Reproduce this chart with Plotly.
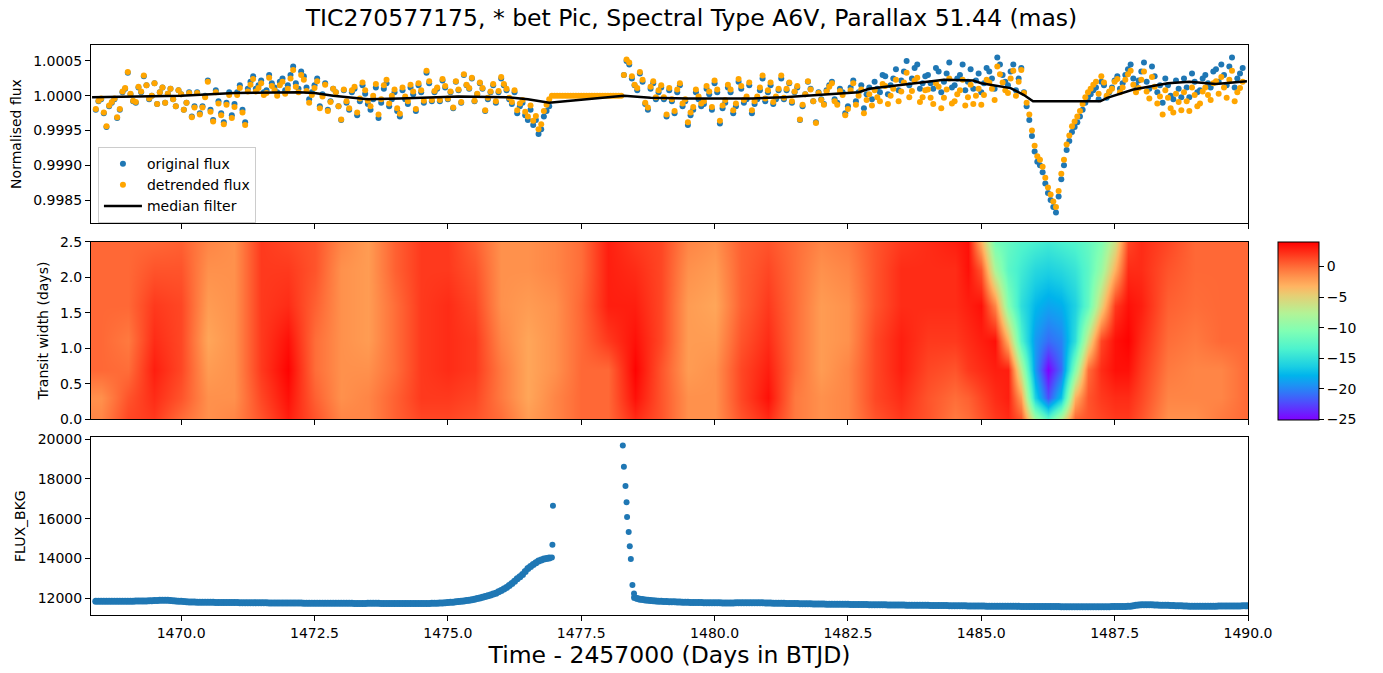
import plotly.graph_objects as go

# ---------------- data ----------------
time_pre = [1468.4, 1468.5, 1468.6, 1468.7, 1468.8, 1468.9,
            1469.0, 1469.1, 1469.2, 1469.3, 1469.4, 1469.5, 1469.6, 1469.7, 1469.8, 1469.9,
            1470.0, 1470.1, 1470.2, 1470.3, 1470.4, 1470.5, 1470.6, 1470.7, 1470.8, 1470.9,
            1471.0, 1471.1, 1471.2, 1471.3, 1471.4, 1471.5, 1471.6, 1471.7, 1471.8, 1471.9,
            1472.0, 1472.1, 1472.2, 1472.3, 1472.4, 1472.5, 1472.6, 1472.7, 1472.8, 1472.9,
            1473.0, 1473.1, 1473.2, 1473.3, 1473.4, 1473.5, 1473.6, 1473.7, 1473.8, 1473.9,
            1474.0, 1474.1, 1474.2, 1474.3, 1474.4, 1474.5, 1474.6, 1474.7, 1474.8, 1474.9,
            1475.0, 1475.1, 1475.2, 1475.3, 1475.4, 1475.5, 1475.6, 1475.7, 1475.8, 1475.9,
            1476.0, 1476.1, 1476.2, 1476.3, 1476.4, 1476.5, 1476.6, 1476.7, 1476.8, 1476.9]

flux_orig_pre = [0.99980, 0.99995, 0.99955, 0.99990, 0.99968, 1.00005,
                 1.00033, 0.99992, 1.00012, 1.00028, 0.99995, 1.00018, 1.00005, 0.99990, 1.00010, 0.99985,
                 1.00002, 0.99990, 0.99970, 1.00005, 0.99985, 1.00022, 0.99965, 0.99992, 0.99962, 1.00005,
                 0.99988, 1.00015, 0.99962, 1.00020, 1.00010, 1.00022, 1.00008, 1.00018, 1.00005, 1.00025,
                 1.00015, 1.00042, 1.00010, 1.00028, 0.99995, 1.00015, 0.99985, 1.00018, 0.99992, 1.00005,
                 0.99965, 0.99990, 1.00005, 0.99972, 1.00015, 0.99988, 0.99995, 0.99968, 1.00010, 0.99985,
                 1.00005, 0.99970, 0.99995, 1.00012, 0.99978, 1.00005, 1.00033, 0.99992, 1.00010, 1.00022,
                 0.99995, 0.99982, 1.00008, 1.00030, 1.00010, 0.99992, 1.00018, 0.99978, 1.00005, 0.99990,
                 1.00025, 1.00008, 0.99988, 0.99975, 0.99990, 0.99965, 0.99958, 0.99945, 0.99970, 0.99985]

flux_detr_pre = [0.99981, 0.99996, 0.99956, 0.99991, 0.99969, 1.00006,
                 1.00034, 0.99993, 1.00013, 1.00029, 0.99996, 1.00018, 1.00005, 0.99990, 1.00010, 0.99985,
                 1.00002, 0.99990, 0.99969, 1.00004, 0.99983, 1.00020, 0.99963, 0.99989, 0.99959, 1.00001,
                 0.99984, 1.00011, 0.99958, 1.00016, 1.00006, 1.00018, 1.00004, 1.00014, 1.00000, 1.00020,
                 1.00010, 1.00037, 1.00005, 1.00023, 0.99990, 1.00011, 0.99982, 1.00016, 0.99991, 1.00005,
                 0.99966, 0.99992, 1.00008, 0.99976, 1.00019, 0.99993, 1.00000, 0.99973, 1.00015, 0.99989,
                 1.00009, 0.99974, 0.99999, 1.00016, 0.99981, 1.00008, 1.00036, 0.99994, 1.00012, 1.00024,
                 0.99996, 0.99983, 1.00009, 1.00031, 1.00011, 0.99993, 1.00019, 0.99979, 1.00006, 0.99992,
                 1.00027, 1.00010, 0.99991, 0.99979, 0.99994, 0.99970, 0.99964, 0.99952, 0.99978, 0.99995]

time_pre_mid = [1468.45, 1468.55, 1468.65, 1468.75, 1468.85, 1468.95,
                1469.05, 1469.15, 1469.25, 1469.35, 1469.45, 1469.55, 1469.65, 1469.75, 1469.85, 1469.95,
                1470.05, 1470.15, 1470.25, 1470.35, 1470.45, 1470.55, 1470.65, 1470.75, 1470.85, 1470.95,
                1471.05, 1471.15, 1471.25, 1471.35, 1471.45, 1471.55, 1471.65, 1471.75, 1471.85, 1471.95,
                1472.05, 1472.15, 1472.25, 1472.35, 1472.45, 1472.55, 1472.65, 1472.75, 1472.85, 1472.95,
                1473.05, 1473.15, 1473.25, 1473.35, 1473.45, 1473.55, 1473.65, 1473.75, 1473.85, 1473.95,
                1474.05, 1474.15, 1474.25, 1474.35, 1474.45, 1474.55, 1474.65, 1474.75, 1474.85, 1474.95,
                1475.05, 1475.15, 1475.25, 1475.35, 1475.45, 1475.55, 1475.65, 1475.75, 1475.85, 1475.95,
                1476.05, 1476.15, 1476.25, 1476.35, 1476.45, 1476.55, 1476.65, 1476.75, 1476.85]

flux_orig_pre_mid = [0.99992, 0.99975, 0.99985, 0.99995, 0.99980, 1.00010,
                     1.00002, 0.99990, 1.00005, 1.00015, 1.00000, 0.99988, 1.00012, 1.00003, 0.99995, 1.00008,
                     0.99980, 1.00005, 0.99985, 0.99975, 1.00000, 0.99980, 1.00008, 0.99975, 0.99990, 0.99972,
                     1.00005, 0.99980, 1.00010, 1.00028, 1.00015, 1.00005, 1.00030, 1.00012, 1.00020, 1.00008,
                     1.00030, 1.00018, 1.00035, 1.00012, 1.00005, 1.00025, 1.00002, 0.99980, 1.00010, 0.99985,
                     1.00008, 0.99980, 1.00010, 0.99992, 1.00003, 0.99980, 1.00012, 0.99990, 1.00018, 0.99995,
                     0.99978, 1.00008, 0.99988, 1.00002, 1.00015, 0.99990, 1.00018, 1.00005, 0.99992, 1.00012,
                     1.00005, 1.00020, 0.99990, 1.00015, 1.00025, 1.00002, 1.00010, 0.99995, 1.00015, 1.00005,
                     1.00015, 0.99995, 1.00005, 0.99985, 0.99972, 0.99980, 0.99965, 0.99952, 0.99978]

flux_detr_pre_mid = [0.99993, 0.99976, 0.99986, 0.99996, 0.99981, 1.00011,
                     1.00003, 0.99991, 1.00006, 1.00015, 1.00000, 0.99988, 1.00012, 1.00003, 0.99995, 1.00008,
                     0.99980, 1.00004, 0.99983, 0.99973, 0.99998, 0.99977, 1.00005, 0.99972, 0.99987, 0.99968,
                     1.00001, 0.99976, 1.00006, 1.00024, 1.00011, 1.00001, 1.00026, 1.00008, 1.00015, 1.00003,
                     1.00025, 1.00013, 1.00030, 1.00007, 1.00001, 1.00021, 0.99999, 0.99978, 1.00010, 0.99985,
                     1.00009, 0.99982, 1.00013, 0.99996, 1.00008, 0.99985, 1.00017, 0.99995, 1.00023, 1.00000,
                     0.99982, 1.00012, 0.99992, 1.00006, 1.00018, 0.99993, 1.00021, 1.00007, 0.99994, 1.00014,
                     1.00006, 1.00021, 0.99991, 1.00016, 1.00026, 1.00003, 1.00011, 0.99997, 1.00017, 1.00007,
                     1.00017, 0.99997, 1.00008, 0.99989, 0.99977, 0.99986, 0.99971, 0.99959, 0.99987]

time_gap = [1476.95, 1477.0, 1477.05, 1477.1, 1477.15, 1477.2, 1477.25, 1477.3, 1477.35, 1477.4,
            1477.45, 1477.5, 1477.55, 1477.6, 1477.65, 1477.7, 1477.75, 1477.8, 1477.85, 1477.9,
            1477.95, 1478.0, 1478.05, 1478.1, 1478.15, 1478.2, 1478.25]
flux_detr_gap = [1.0, 1.0, 1.0, 1.0, 1.0, 1.0, 1.0, 1.0, 1.0, 1.0,
                 1.0, 1.0, 1.0, 1.0, 1.0, 1.0, 1.0, 1.0, 1.0, 1.0,
                 1.0, 1.0, 1.0, 1.0, 1.0, 1.0, 1.0]

time_post = [1478.3, 1478.4, 1478.5, 1478.6, 1478.7, 1478.8, 1478.9,
             1479.0, 1479.1, 1479.2, 1479.3, 1479.4, 1479.5, 1479.6, 1479.7, 1479.8, 1479.9,
             1480.0, 1480.1, 1480.2, 1480.3, 1480.4, 1480.5, 1480.6, 1480.7, 1480.8, 1480.9,
             1481.0, 1481.1, 1481.2, 1481.3, 1481.4, 1481.5, 1481.6, 1481.7, 1481.8, 1481.9,
             1482.0, 1482.1, 1482.2, 1482.3, 1482.4, 1482.5, 1482.6, 1482.7, 1482.8, 1482.9,
             1483.0, 1483.1, 1483.2, 1483.3, 1483.4, 1483.5, 1483.6, 1483.7, 1483.8, 1483.9,
             1484.0, 1484.1, 1484.2, 1484.3, 1484.4, 1484.5, 1484.6, 1484.7, 1484.8, 1484.9,
             1485.0, 1485.1, 1485.2, 1485.3, 1485.4, 1485.5, 1485.6, 1485.7, 1485.8,
             1485.85, 1485.9, 1485.95, 1486.0, 1486.05, 1486.1, 1486.15, 1486.2, 1486.25, 1486.3,
             1486.35, 1486.4, 1486.45, 1486.5, 1486.55, 1486.6, 1486.65, 1486.7, 1486.75, 1486.8,
             1486.85, 1486.9, 1486.95, 1487.0,
             1487.1, 1487.2, 1487.3, 1487.4, 1487.5, 1487.6, 1487.7, 1487.8, 1487.9,
             1488.0, 1488.1, 1488.2, 1488.3, 1488.4, 1488.5, 1488.6, 1488.7, 1488.8, 1488.9,
             1489.0, 1489.1, 1489.2, 1489.3, 1489.4, 1489.5, 1489.6, 1489.7, 1489.8, 1489.9]

flux_orig_post = [1.00030, 1.00045, 1.00015, 1.00032, 0.99988, 1.00010, 0.99995,
                  1.00012, 0.99970, 0.99992, 1.00005, 0.99985, 0.99958, 0.99980, 0.99995, 0.99988, 1.00002,
                  1.00018, 0.99960, 0.99990, 1.00005, 0.99985, 1.00010, 0.99995, 0.99975, 0.99995, 1.00025,
                  1.00005, 0.99988, 1.00008, 0.99995, 1.00018, 1.00005, 0.99965, 1.00002, 1.00010, 0.99962,
                  0.99995, 1.00008, 1.00020, 0.99990, 1.00005, 0.99985, 1.00022, 1.00005, 0.99982, 1.00012,
                  1.00020, 1.00005, 1.00028, 1.00015, 1.00038, 1.00022, 1.00050, 1.00025, 1.00045, 1.00018,
                  1.00030, 1.00010, 1.00035, 1.00020, 1.00048, 1.00015, 1.00030, 1.00008, 1.00038, 1.00022,
                  1.00005, 1.00040, 1.00025, 1.00055, 1.00030, 1.00015, 1.00045, 1.00025, 1.00005,
                  0.99985, 0.99965, 0.99942, 0.99920, 0.99905, 0.99900, 0.99890, 0.99874, 0.99860, 0.99850,
                  0.99840, 0.99832, 0.99855, 0.99880, 0.99900, 0.99922, 0.99935, 0.99948, 0.99955, 0.99962,
                  0.99970, 0.99980, 0.99990, 0.99997,
                  1.00008, 0.99995, 1.00015, 1.00005, 1.00022, 1.00010, 1.00030, 1.00045, 1.00015,
                  1.00035, 1.00020, 1.00042, 1.00005, 0.99990, 1.00015, 0.99995, 1.00010, 1.00025, 0.99998,
                  1.00020, 1.00008, 1.00030, 1.00012, 1.00038, 1.00045, 1.00015, 1.00055, 1.00025, 1.00040]

flux_detr_post = [1.00030, 1.00048, 1.00016, 1.00034, 0.99990, 1.00013, 0.99998,
                  1.00015, 0.99973, 0.99995, 1.00009, 0.99989, 0.99962, 0.99984, 0.99999, 0.99992, 1.00006,
                  1.00022, 0.99964, 0.99994, 1.00009, 0.99989, 1.00014, 0.99999, 0.99979, 0.99999, 1.00029,
                  1.00008, 0.99991, 1.00010, 0.99997, 1.00019, 1.00006, 0.99966, 1.00002, 1.00009, 0.99961,
                  0.99994, 1.00006, 1.00018, 0.99987, 1.00001, 0.99981, 1.00018, 1.00000, 0.99975, 1.00002,
                  1.00008, 0.99992, 1.00014, 1.00000, 1.00023, 1.00006, 1.00033, 1.00007, 1.00026, 0.99998,
                  1.00009, 0.99988, 1.00013, 0.99997, 1.00025, 0.99992, 1.00008, 0.99986, 1.00016, 1.00000,
                  0.99987, 1.00023, 1.00010, 1.00042, 1.00019, 1.00004, 1.00036, 1.00020, 1.00004,
                  0.99990, 0.99973, 0.99950, 0.99928, 0.99913, 0.99908, 0.99898, 0.99882, 0.99868, 0.99858,
                  0.99848, 0.99840, 0.99863, 0.99888, 0.99908, 0.99930, 0.99943, 0.99956, 0.99963, 0.99970,
                  0.99978, 0.99988, 0.99998, 1.00005,
                  1.00016, 1.00003, 1.00019, 1.00006, 1.00020, 1.00005, 1.00023, 1.00036, 1.00005,
                  1.00023, 1.00006, 1.00027, 0.99989, 0.99973, 0.99997, 0.99976, 0.99991, 1.00005, 0.99978,
                  1.00001, 0.99989, 1.00012, 0.99994, 1.00021, 1.00027, 0.99997, 1.00036, 1.00005, 1.00020]

time_post_mid = [1478.35, 1478.45, 1478.55, 1478.65, 1478.75, 1478.85, 1478.95,
                 1479.05, 1479.15, 1479.25, 1479.35, 1479.45, 1479.55, 1479.65, 1479.75, 1479.85, 1479.95,
                 1480.05, 1480.15, 1480.25, 1480.35, 1480.45, 1480.55, 1480.65, 1480.75, 1480.85, 1480.95,
                 1481.05, 1481.15, 1481.25, 1481.35, 1481.45, 1481.55, 1481.65, 1481.75, 1481.85, 1481.95,
                 1482.05, 1482.15, 1482.25, 1482.35, 1482.45, 1482.55, 1482.65, 1482.75, 1482.85, 1482.95,
                 1483.05, 1483.15, 1483.25, 1483.35, 1483.45, 1483.55, 1483.65, 1483.75, 1483.85, 1483.95,
                 1484.05, 1484.15, 1484.25, 1484.35, 1484.45, 1484.55, 1484.65, 1484.75, 1484.85, 1484.95,
                 1485.05, 1485.15, 1485.25, 1485.35, 1485.45, 1485.55, 1485.65, 1485.75,
                 1487.05, 1487.15, 1487.25, 1487.35, 1487.45, 1487.55, 1487.65, 1487.75, 1487.85, 1487.95,
                 1488.05, 1488.15, 1488.25, 1488.35, 1488.45, 1488.55, 1488.65, 1488.75, 1488.85, 1488.95,
                 1489.05, 1489.15, 1489.25, 1489.35, 1489.45, 1489.55, 1489.65, 1489.75, 1489.85]

flux_orig_post_mid = [1.00050, 1.00025, 1.00008, 1.00020, 0.99980, 1.00018, 1.00005,
                      0.99995, 1.00008, 0.99975, 1.00015, 0.99992, 0.99972, 1.00005, 0.99985, 1.00010, 0.99980,
                      1.00005, 0.99982, 1.00012, 0.99975, 1.00020, 0.99990, 1.00015, 0.99988, 1.00008, 0.99992,
                      1.00015, 0.99995, 1.00025, 1.00008, 0.99990, 1.00012, 0.99985, 1.00020, 0.99992, 1.00005,
                      0.99988, 1.00015, 0.99995, 1.00010, 0.99975, 1.00012, 0.99992, 1.00015, 1.00002, 0.99995,
                      1.00010, 1.00030, 1.00002, 1.00025, 1.00008, 1.00035, 1.00015, 1.00040, 1.00010, 1.00028,
                      1.00018, 1.00040, 1.00005, 1.00032, 1.00012, 1.00025, 1.00045, 1.00020, 1.00010, 1.00032,
                      1.00018, 1.00035, 1.00010, 1.00045, 1.00020, 1.00035, 1.00008, 1.00040,
                      1.00002, 1.00012, 1.00020, 0.99997, 1.00012, 1.00028, 1.00018, 1.00038, 1.00025, 1.00022,
                      1.00048, 1.00010, 1.00028, 1.00015, 1.00025, 1.00000, 1.00022, 0.99998, 1.00012, 1.00032,
                      1.00005, 1.00025, 1.00018, 1.00035, 1.00020, 1.00030, 1.00042, 1.00012, 1.00032]

flux_detr_post_mid = [1.00052, 1.00028, 1.00011, 1.00023, 0.99983, 1.00021, 1.00008,
                      0.99998, 1.00011, 0.99978, 1.00018, 0.99995, 0.99976, 1.00009, 0.99989, 1.00014, 0.99984,
                      1.00009, 0.99986, 1.00016, 0.99979, 1.00024, 0.99994, 1.00019, 0.99992, 1.00012, 0.99996,
                      1.00019, 0.99999, 1.00029, 1.00010, 0.99992, 1.00014, 0.99987, 1.00021, 0.99992, 1.00004,
                      0.99987, 1.00013, 0.99992, 1.00007, 0.99972, 1.00008, 0.99987, 1.00009, 0.99994, 0.99986,
                      0.99998, 1.00017, 0.99988, 1.00010, 0.99992, 1.00019, 0.99998, 1.00022, 0.99991, 1.00008,
                      0.99997, 1.00018, 0.99982, 1.00009, 0.99989, 1.00002, 1.00023, 0.99998, 0.99988, 1.00010,
                      1.00001, 1.00019, 0.99994, 1.00031, 1.00008, 1.00025, 1.00000, 1.00037,
                      1.00010, 1.00020, 1.00028, 1.00000, 1.00010, 1.00024, 1.00012, 1.00031, 1.00016, 1.00011,
                      1.00035, 0.99996, 1.00013, 0.99999, 1.00008, 0.99982, 1.00003, 0.99979, 0.99992, 1.00012,
                      0.99985, 1.00006, 1.00001, 1.00018, 1.00003, 1.00012, 1.00023, 0.99992, 1.00011]

median_time = [1468.33, 1469.0, 1470.0, 1471.0, 1472.2, 1472.5, 1472.85, 1473.5, 1474.1, 1475.2,
               1476.1, 1476.5, 1476.9, 1478.3, 1478.8, 1479.5, 1480.7, 1481.3, 1482.2, 1482.7,
               1482.9, 1483.5, 1484.3, 1484.85, 1485.0, 1485.55, 1485.8, 1485.97, 1487.23, 1487.36,
               1487.85, 1488.5, 1488.9, 1489.4, 1489.98]
median_flux = [0.99998, 0.99999, 1.0, 1.00004, 1.00005, 1.00004, 1.0, 0.99995, 0.99996, 0.99999,
               0.99998, 0.99995, 0.99990, 1.0, 0.99997, 0.99996, 0.99996, 0.99998, 1.00002, 1.00005,
               1.0001, 1.00016, 1.00023, 1.00022, 1.00018, 1.00011, 1.00001, 0.99992, 0.99992, 0.99997,
               1.00009, 1.00018, 1.0002, 1.00017, 1.00021]

# transit-search grid (width x time)
grid_time = [1468.5, 1469.0, 1469.5, 1470.0, 1470.5, 1471.0, 1471.5, 1472.0, 1472.5, 1473.0,
             1473.5, 1474.0, 1474.5, 1475.0, 1475.5, 1476.0, 1476.5, 1477.0, 1477.5, 1478.0,
             1478.5, 1479.0, 1479.5, 1480.0, 1480.5, 1481.0, 1481.5, 1482.0, 1482.5, 1483.0,
             1483.5, 1484.0, 1484.5, 1484.75, 1485.0, 1485.25, 1485.5, 1485.75, 1486.0, 1486.25,
             1486.5, 1486.75, 1487.0, 1487.25, 1487.5, 1487.75, 1488.0, 1488.5, 1489.0, 1489.5,
             1490.0]
grid_width = [0.0, 0.3, 0.7, 1.1, 1.6, 2.1, 2.5]
score = [
    [-1, 1.5, 2, 0, -1.5, -1, 1, 3, 1, -1,
     -1, 0.5, 1.5, 1.5, 1, 0, -2, -1, 0.2, 0.2,
     2.5, 1, -1.5, -1.5, 1, 2.5, -0.5, -1.5, -1, 1,
     2, 1, -0.5, 0, 1, 2, 2.5, 1, -8, -12,
     -7, 0.5, 1, 1.5, 2, 2, 1, -1.5, -1.5, -0.5,
     0.2],
    [-1.5, 1, 2.5, 1, -1.5, -1.5, 1.5, 3.5, 0.5, -1.5,
     -1, 0.5, 2, 2, 1.5, -0.5, -2.5, -1, 0.2, 0.2,
     3.5, 1, -1.5, -1.5, 1.5, 3.5, -0.5, -1.5, -1, 1.5,
     2.5, 1, 0, 0.5, 1.5, 2.5, 3, -2, -16, -22,
     -17, -3, 1, 2, 2.5, 2.5, 1.5, -1, -1, -1,
     0.2],
    [0.2, 0, 3, 1.5, -2, -1.5, 2, 4, 0, -1.5,
     -1.5, 0, 2, 2.5, 2, -0.5, -2.5, -1.5, 0.2, 0.2,
     4, 1, -2, -1.5, 1.5, 3, 0, -2, -1, 1.5,
     3, 1.5, 1, 2, 2.5, 3, 3, -7, -19, -25,
     -21, -10, 0, 2.5, 3.5, 3.5, 2, -0.5, -1, -1,
     0.2],
    [0.2, -0.5, 2.5, 1.5, -2.5, -1.5, 2, 3.5, 0, -1.5,
     -2, 0, 2, 2.5, 2, -1, -2.5, -1.5, 0.2, 2,
     3.5, 1.5, -2, -2, 1, 2.5, 0, -2, -1.5, 1.5,
     3, 2, 2, 2.5, 3, 3.5, -3, -13, -19, -21,
     -20, -15, -6, 1.5, 3.5, 4, 2.5, 0, -0.5, 0.2,
     0.2],
    [0.2, 0.2, 2, 1.5, -2, -1.5, 2, 2.5, 0.5, -1.5,
     -2, 0, 2, 2.5, 1.5, -1.5, -2, -1.5, 0.3, 3,
     3, 1.5, -2, -2.5, 0.5, 2, 0, -2, -1.5, 1,
     2.5, 2.5, 2.5, 3, 3.5, -1, -10, -15, -17.5, -18.5,
     -18, -16, -12, -5, 2, 3.5, 3, 0.5, 0, 0.2,
     0.2],
    [0.2, 0.2, 1, 1, -1.5, -1.5, 2, 2, 1, -1.5,
     -2, 0.5, 2, 2, 1, -1.5, -1.5, -1, 0, 3,
     2.5, 1.5, -1.5, -2, 0.5, 1.5, 0, -1.5, -1, 1,
     2.5, 2.5, 2.5, 3.5, 1, -8, -12.5, -14, -15.5, -16,
     -15.5, -14.5, -12.5, -9, -3, 2.5, 2.5, 1, 0.2, 0.2,
     0.2],
    [0.2, 0.2, 0.2, 0.5, -1, -1.5, 2, 1.5, 1, -1,
     -2, 0.5, 2, 2, 0.5, -1.5, -1.5, -1, 0, 3,
     2, 1.5, -1, -1.5, 0.5, 1, 0, -1, -0.5, 1,
     2, 2.5, 3, 3.5, -3, -11, -12, -13, -13.5, -14,
     -13.5, -13, -12, -10.5, -6, 1.5, 2.5, 1.5, 0.2, 0.2,
     0.2],
]

bkg_pre = [11860, 11855, 11860, 11855, 11860, 11855,
           11860, 11860, 11865, 11870, 11875, 11890, 11905, 11910, 11895, 11870,
           11850, 11830, 11815, 11810, 11805, 11800, 11800, 11795, 11795, 11790,
           11790, 11785, 11785, 11780, 11780, 11775, 11775, 11770, 11770, 11770,
           11765, 11765, 11765, 11760, 11760, 11760, 11755, 11755, 11755, 11750,
           11750, 11750, 11750, 11745, 11745, 11750, 11760, 11750, 11745, 11745,
           11740, 11740, 11740, 11740, 11740, 11745, 11745, 11750, 11760, 11770,
           11790, 11810, 11840, 11870, 11910, 11960, 12020, 12090, 12170, 12260,
           12400, 12550, 12750, 12980, 13200, 13500, 13700, 13880, 13980, 14030]

bkg_pre_mid = [11858, 11858, 11858, 11858, 11858, 11858,
               11860, 11862, 11868, 11872, 11882, 11898, 11908, 11902, 11882, 11860,
               11840, 11822, 11812, 11808, 11802, 11800, 11798, 11795, 11792, 11790,
               11788, 11785, 11782, 11780, 11778, 11775, 11772, 11770, 11770, 11768,
               11765, 11765, 11762, 11760, 11760, 11758, 11755, 11755, 11752, 11750,
               11750, 11750, 11748, 11745, 11748, 11755, 11755, 11748, 11745, 11742,
               11740, 11740, 11740, 11740, 11742, 11745, 11748, 11755, 11765, 11780,
               11800, 11825, 11855, 11890, 11935, 11990, 12055, 12130, 12215, 12330,
               12475, 12650, 12865, 13090, 13350, 13600, 13790, 13930, 14005]

bkg_time_spike = [1476.95, 1476.96, 1476.97, 1478.28, 1478.30, 1478.33, 1478.35, 1478.36,
                  1478.39, 1478.41, 1478.43, 1478.46, 1478.49]
bkg_spike = [14050, 14700, 16650, 19680, 18620, 17650, 16830, 16090,
             15340, 14620, 13980, 12670, 12250]

bkg_time_post = [1478.5, 1478.6, 1478.7, 1478.8, 1478.9,
                 1479.0, 1479.1, 1479.2, 1479.3, 1479.4, 1479.5, 1479.6, 1479.7, 1479.8, 1479.9,
                 1480.0, 1480.1, 1480.2, 1480.3, 1480.4, 1480.5, 1480.6, 1480.7, 1480.8, 1480.9,
                 1481.0, 1481.1, 1481.2, 1481.3, 1481.4, 1481.5, 1481.6, 1481.7, 1481.8, 1481.9,
                 1482.0, 1482.1, 1482.2, 1482.3, 1482.4, 1482.5, 1482.6, 1482.7, 1482.8, 1482.9,
                 1483.0, 1483.1, 1483.2, 1483.3, 1483.4, 1483.5, 1483.6, 1483.7, 1483.8, 1483.9,
                 1484.0, 1484.1, 1484.2, 1484.3, 1484.4, 1484.5, 1484.6, 1484.7, 1484.8, 1484.9,
                 1485.0, 1485.1, 1485.2, 1485.3, 1485.4, 1485.5, 1485.6, 1485.7, 1485.8, 1485.9,
                 1486.0, 1486.1, 1486.2, 1486.3, 1486.4, 1486.5, 1486.6, 1486.7, 1486.8, 1486.9,
                 1487.0, 1487.1, 1487.2, 1487.3, 1487.4, 1487.5, 1487.6, 1487.7, 1487.8, 1487.9,
                 1488.0, 1488.1, 1488.2, 1488.3, 1488.4, 1488.5, 1488.6, 1488.7, 1488.8, 1488.9,
                 1489.0, 1489.1, 1489.2, 1489.3, 1489.4, 1489.5, 1489.6, 1489.7, 1489.8, 1489.9,
                 1490.0]
bkg_post = [12050, 11960, 11920, 11890, 11870,
            11850, 11840, 11830, 11820, 11810, 11800, 11795, 11790, 11785, 11780,
            11775, 11775, 11770, 11770, 11775, 11780, 11785, 11785, 11780, 11775,
            11765, 11760, 11755, 11750, 11745, 11740, 11735, 11730, 11725, 11720,
            11715, 11710, 11710, 11705, 11700, 11700, 11695, 11690, 11690, 11685,
            11680, 11680, 11675, 11670, 11670, 11665, 11660, 11660, 11655, 11650,
            11650, 11645, 11640, 11640, 11635, 11630, 11630, 11625, 11620, 11620,
            11615, 11610, 11610, 11605, 11605, 11600, 11600, 11600, 11595, 11595,
            11595, 11590, 11590, 11590, 11590, 11585, 11585, 11585, 11585, 11585,
            11585, 11585, 11585, 11585, 11585, 11590, 11590, 11595, 11610, 11650,
            11680, 11685, 11675, 11665, 11655, 11650, 11640, 11630, 11620, 11610,
            11605, 11600, 11600, 11605, 11610, 11615, 11615, 11620, 11620, 11625,
            11625]

bkg_time_post_mid = [1478.55, 1478.65, 1478.75, 1478.85, 1478.95,
                     1479.05, 1479.15, 1479.25, 1479.35, 1479.45, 1479.55, 1479.65, 1479.75, 1479.85, 1479.95,
                     1480.05, 1480.15, 1480.25, 1480.35, 1480.45, 1480.55, 1480.65, 1480.75, 1480.85, 1480.95,
                     1481.05, 1481.15, 1481.25, 1481.35, 1481.45, 1481.55, 1481.65, 1481.75, 1481.85, 1481.95,
                     1482.05, 1482.15, 1482.25, 1482.35, 1482.45, 1482.55, 1482.65, 1482.75, 1482.85, 1482.95,
                     1483.05, 1483.15, 1483.25, 1483.35, 1483.45, 1483.55, 1483.65, 1483.75, 1483.85, 1483.95,
                     1484.05, 1484.15, 1484.25, 1484.35, 1484.45, 1484.55, 1484.65, 1484.75, 1484.85, 1484.95,
                     1485.05, 1485.15, 1485.25, 1485.35, 1485.45, 1485.55, 1485.65, 1485.75, 1485.85, 1485.95,
                     1486.05, 1486.15, 1486.25, 1486.35, 1486.45, 1486.55, 1486.65, 1486.75, 1486.85, 1486.95,
                     1487.05, 1487.15, 1487.25, 1487.35, 1487.45, 1487.55, 1487.65, 1487.75, 1487.85, 1487.95,
                     1488.05, 1488.15, 1488.25, 1488.35, 1488.45, 1488.55, 1488.65, 1488.75, 1488.85, 1488.95,
                     1489.05, 1489.15, 1489.25, 1489.35, 1489.45, 1489.55, 1489.65, 1489.75, 1489.85, 1489.95]
bkg_post_mid = [12000, 11940, 11905, 11880, 11860,
                11845, 11835, 11825, 11815, 11805, 11798, 11792, 11788, 11782, 11778,
                11775, 11772, 11770, 11772, 11778, 11782, 11785, 11782, 11778, 11770,
                11762, 11758, 11752, 11748, 11742, 11738, 11732, 11728, 11722, 11718,
                11712, 11710, 11708, 11702, 11700, 11698, 11692, 11690, 11688, 11682,
                11680, 11678, 11672, 11670, 11668, 11662, 11660, 11658, 11652, 11650,
                11648, 11642, 11640, 11638, 11632, 11630, 11628, 11622, 11620, 11618,
                11612, 11610, 11608, 11605, 11602, 11600, 11600, 11598, 11595, 11595,
                11592, 11590, 11590, 11590, 11588, 11585, 11585, 11585, 11585, 11585,
                11585, 11585, 11585, 11585, 11588, 11590, 11592, 11602, 11630, 11668,
                11685, 11680, 11670, 11660, 11652, 11645, 11635, 11625, 11615, 11608,
                11602, 11600, 11602, 11608, 11612, 11615, 11618, 11620, 11622, 11625]

x_ticks = [1470.0, 1472.5, 1475.0, 1477.5, 1480.0, 1482.5, 1485.0, 1487.5, 1490.0]
flux_ticks = [0.9985, 0.9990, 0.9995, 1.0000, 1.0005]
width_ticks = [0.0, 0.5, 1.0, 1.5, 2.0, 2.5]
bkg_ticks = [12000, 14000, 16000, 18000, 20000]
cbar_ticks = [0, -5, -10, -15, -20, -25]

# ---------------- style ----------------
FONT = "DejaVu Sans"
BLUE = "#1f77b4"
ORANGE = "#ffa500"
rainbow = [[0.0, "rgb(128,0,255)"], [0.05, "rgb(102,40,254)"], [0.1, "rgb(77,79,252)"],
           [0.15, "rgb(51,116,248)"], [0.2, "rgb(26,150,243)"], [0.25, "rgb(0,180,236)"],
           [0.3, "rgb(26,206,227)"], [0.4, "rgb(77,243,206)"], [0.5, "rgb(128,255,180)"],
           [0.6, "rgb(179,243,150)"], [0.7, "rgb(230,206,116)"], [0.75, "rgb(255,180,98)"],
           [0.8, "rgb(255,150,79)"], [0.85, "rgb(255,116,60)"], [0.9, "rgb(255,79,40)"],
           [0.95, "rgb(255,40,20)"], [1.0, "rgb(255,0,0)"]]

fig = go.Figure()

fig.add_trace(go.Scatter(x=time_pre + time_pre_mid + time_post + time_post_mid,
                         y=flux_orig_pre + flux_orig_pre_mid + flux_orig_post + flux_orig_post_mid,
                         mode="markers", name="original flux",
                         marker=dict(color=BLUE, size=6, line=dict(width=0)),
                         xaxis="x", yaxis="y"))
fig.add_trace(go.Scatter(x=time_pre + time_pre_mid + time_gap + time_post + time_post_mid,
                         y=flux_detr_pre + flux_detr_pre_mid + flux_detr_gap + flux_detr_post
                         + flux_detr_post_mid,
                         mode="markers", name="detrended flux",
                         marker=dict(color=ORANGE, size=6, line=dict(width=0)),
                         xaxis="x", yaxis="y"))
fig.add_trace(go.Scatter(x=median_time, y=median_flux, mode="lines", name="median filter",
                         line=dict(color="black", width=2.5), xaxis="x", yaxis="y"))

fig.add_trace(go.Heatmap(x=grid_time, y=grid_width, z=score, zmin=-25, zmax=4.1,
                         colorscale=rainbow, zsmooth="best", showscale=True,
                         xaxis="x2", yaxis="y2",
                         colorbar=dict(x=1.026, xanchor="left", xpad=0, ypad=0,
                                       y=0.4991, yanchor="middle",
                                       thickness=41, lenmode="pixels", len=178,
                                       outlinewidth=1, outlinecolor="black",
                                       tickvals=cbar_ticks, ticks="outside", ticklen=5,
                                       tickcolor="black",
                                       tickfont=dict(family=FONT, size=14, color="black"))))

fig.add_trace(go.Scatter(x=time_pre + time_pre_mid + bkg_time_post + bkg_time_post_mid,
                         y=bkg_pre + bkg_pre_mid + bkg_post + bkg_post_mid,
                         mode="markers", showlegend=False,
                         marker=dict(color=BLUE, size=7, line=dict(width=0)),
                         xaxis="x3", yaxis="y3"))
fig.add_trace(go.Scatter(x=bkg_time_spike, y=bkg_spike, mode="markers", showlegend=False,
                         marker=dict(color=BLUE, size=6, line=dict(width=0)),
                         xaxis="x3", yaxis="y3"))

axis_common = dict(showline=True, mirror=True, linecolor="black", linewidth=1,
                   ticks="outside", ticklen=5, tickwidth=1, tickcolor="black",
                   showgrid=False, zeroline=False,
                   tickfont=dict(family=FONT, size=14, color="black"))

xr = [1468.31, 1490.0]
fig.update_layout(
    width=1383, height=673,
    margin=dict(l=91, r=135, t=45, b=58),
    paper_bgcolor="white", plot_bgcolor="white",
    font=dict(family=FONT, size=14, color="black"),
    title=dict(text="TIC270577175, * bet Pic, Spectral Type A6V, Parallax 51.44 (mas)",
               x=0.5, xref="container", xanchor="center",
               y=1 - 18 / 673, yref="container", yanchor="middle",
               font=dict(family=FONT, size=23.5, color="black")),
    xaxis=dict(domain=[0, 1], anchor="y", range=xr, tickvals=x_ticks,
               showticklabels=False, **axis_common),
    xaxis2=dict(domain=[0, 1], anchor="y2", range=xr, tickvals=x_ticks,
                showticklabels=False, **axis_common),
    xaxis3=dict(domain=[0, 1], anchor="y3", range=xr, tickvals=x_ticks, tickformat=".1f",
                title=dict(text="Time - 2457000 (Days in BTJD)", standoff=4,
                           font=dict(family=FONT, size=23.5, color="black")),
                **axis_common),
    yaxis=dict(domain=[0.6877, 1.0], anchor="x", range=[0.99817, 1.00073],
               tickvals=flux_ticks, tickformat=".4f",
               title=dict(text="Normalised flux", standoff=8,
                          font=dict(family=FONT, size=14, color="black")),
               **axis_common),
    yaxis2=dict(domain=[0.3433, 0.6549], anchor="x2", range=[0, 2.5],
                tickvals=width_ticks, tickformat=".1f",
                title=dict(text="Transit width (days)", standoff=8,
                           font=dict(family=FONT, size=14, color="black")),
                **axis_common),
    yaxis3=dict(domain=[0, 0.3118], anchor="x3", range=[11165, 20095],
                tickvals=bkg_ticks, tickformat="d",
                title=dict(text="FLUX_BKG", standoff=8,
                           font=dict(family=FONT, size=14, color="black")),
                **axis_common),
    legend=dict(x=0.006, y=0.821, xanchor="left", yanchor="top",
                bgcolor="rgba(255,255,255,0.8)", bordercolor="#cccccc", borderwidth=1,
                font=dict(family=FONT, size=14, color="black"),
                tracegroupgap=2, itemwidth=38),
    showlegend=True,
)

fig.write_html("out.html")
